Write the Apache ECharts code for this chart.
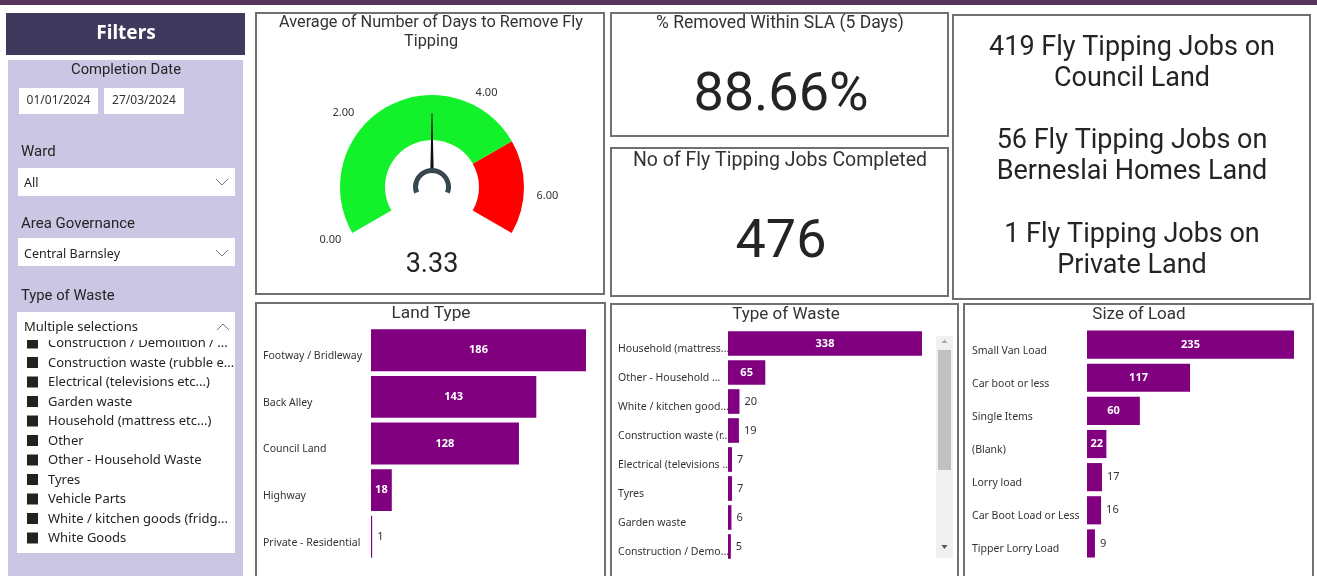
<!DOCTYPE html>
<html><head><meta charset="utf-8">
<script src="https://cdn.jsdelivr.net/npm/echarts@6/dist/echarts.min.js"></script>
<style>html,body{margin:0;padding:0;background:#fff;overflow:hidden}#c{width:1317px;height:576px}</style>
</head><body><div id="c"></div>
<script>
// ---------- data ----------
const landCategories = ['Footway / Bridleway', 'Back Alley', 'Council Land', 'Highway', 'Private - Residential'];
const landValues = [186, 143, 128, 18, 1];
const wasteCategories = ['Household (mattress...', 'Other - Household ...', 'White / kitchen good...', 'Construction waste (r...', 'Electrical (televisions ...', 'Tyres', 'Garden waste', 'Construction / Demo...'];
const wasteValues = [338, 65, 20, 19, 7, 7, 6, 5];
const loadCategories = ['Small Van Load', 'Car boot or less', 'Single Items', '(Blank)', 'Lorry load', 'Car Boot Load or Less', 'Tipper Lorry Load'];
const loadValues = [235, 117, 60, 22, 17, 16, 9];
const gaugeValue = 3.33;
const gaugeMax = 6.66;
const gaugeTarget = 5;
const gaugeTicks = [0, 2, 4, 6];
const slaPercent = '88.66%';
const jobsCompleted = 476;
const summaryCounts = [419, 56, 1];
const summaryLand = ['Council Land', 'Berneslai Homes Land', 'Private Land'];
const wasteFilterItems = ['Construction / Demolition / ...', 'Construction waste (rubble e...', 'Electrical (televisions etc...)', 'Garden waste', 'Household (mattress etc...)', 'Other', 'Other - Household Waste', 'Tyres', 'Vehicle Parts', 'White / kitchen goods (fridg...', 'White Goods'];

// ---------- styles ----------
const DIN = "Roboto, 'DejaVu Sans', sans-serif";
const SEG = "'Noto Sans', 'Open Sans', sans-serif";
const DARK = '#252423';
const PURPLE = '#800080';
const BORDER = '#707070';
// placement of each gauge tick label (distance outside the arc, padding)
const tickLabelPlacement = [
  {distance: -38, padding: [0, 0, 24, 0]},
  {distance: -42, padding: [31, 0, 0, 0]},
  {distance: -68, padding: [46, 0, 0, 0]},
  {distance: -35, padding: [0, 0, 10, 0]}
];

const chart = echarts.init(document.getElementById('c'), null, {renderer: 'canvas'});

const G = [];
function rect(x, y, w, h, fill, stroke, lw, z) {
  G.push({type: 'rect', silent: true, z: z || 0, shape: {x, y, width: w, height: h},
    style: {fill: fill || 'transparent', stroke: stroke || null, lineWidth: lw || 0}});
}
function text(x, y, t, size, o) {
  o = o || {};
  G.push({type: 'text', silent: true, z: o.z || 3, x, y,
    style: {text: t, fontSize: size, fontFamily: o.font || DIN, fontWeight: o.weight || 'normal',
      fill: o.color || DARK, align: o.align || 'left', verticalAlign: 'middle'}});
}
function poly(points, fill, z) {
  G.push({type: 'polygon', silent: true, z: z || 3, shape: {points}, style: {fill}});
}
function chevron(cx, cy, up) {
  const d = up ? -1 : 1;
  G.push({type: 'polyline', silent: true, z: 6, shape: {points: [[cx - 6, cy - 3 * d], [cx, cy + 3 * d], [cx + 6, cy - 3 * d]]},
    style: {stroke: '#777', lineWidth: 1, fill: null}});
}

// top band
rect(0, 0, 1317, 5, '#553559');
// filters panel
rect(6, 13, 239, 42, '#3f3a5d');
text(126, 34, 'Filters', 19, {weight: 'bold', color: '#ffffff', align: 'center', font: SEG});
rect(8, 60, 235, 520, '#cbc6e3');
text(126, 70, 'Completion Date', 14.8, {align: 'center'});
rect(19, 88, 79, 26, '#ffffff');
rect(104, 88, 80, 26, '#ffffff');
text(58.5, 101, '01/01/2024', 12, {align: 'center', font: SEG, color: '#333'});
text(144, 101, '27/03/2024', 12, {align: 'center', font: SEG, color: '#333'});
text(21, 152, 'Ward', 15);
rect(18, 168, 217, 28, '#ffffff');
text(24, 183, 'All', 12.5, {font: SEG});
chevron(222, 182, false);
text(21, 224, 'Area Governance', 15);
rect(18, 238, 217, 28, '#ffffff');
text(24, 254, 'Central Barnsley', 12.5, {font: SEG});
chevron(222, 253, false);
text(21, 296, 'Type of Waste', 14.8);
rect(17, 312, 218, 241, '#ffffff');
wasteFilterItems.forEach((it, i) => {
  const y = 343 + i * 19.5;
  rect(27, y - 5.5, 11, 11, '#222222', null, 0, 2);
  text(48, y + 0.5, it, 13, {font: SEG, z: 2});
});
rect(17, 312, 218, 28, '#ffffff', null, 0, 4);
text(24, 327, 'Multiple selections', 13, {font: SEG, z: 5});
chevron(223, 327, true);

// panels
rect(256, 13, 348, 281, '#fff', BORDER, 2);
rect(611, 13, 337, 123, '#fff', BORDER, 2);
rect(611, 148, 337, 148, '#fff', BORDER, 2);
rect(953, 15, 357, 284, '#fff', BORDER, 2);
rect(256, 303, 349, 290, '#fff', BORDER, 2);
rect(611, 304, 347, 290, '#fff', BORDER, 2);
rect(964, 304, 349, 290, '#fff', BORDER, 2);

// gauge title
text(431, 23, 'Average of Number of Days to Remove Fly', 16.3, {align: 'center', color: '#333'});
text(431, 42, 'Tipping', 16.3, {align: 'center', color: '#333'});
// cards
text(780, 24, '% Removed Within SLA (5 Days)', 17.5, {align: 'center', color: '#333'});
text(781, 96, slaPercent, 54, {align: 'center'});
text(780, 161, 'No of Fly Tipping Jobs Completed', 19.5, {align: 'center', color: '#333'});
text(781, 243, String(jobsCompleted), 54, {align: 'center'});
summaryCounts.forEach((n, i) => {
  const y0 = [48, 141, 235][i];
  text(1132, y0, n + ' Fly Tipping Jobs on', 27, {align: 'center'});
  text(1132, y0 + 31, summaryLand[i], 27, {align: 'center'});
});
// chart titles
text(431, 314, 'Land Type', 17.3, {align: 'center', color: '#333'});
text(786, 315, 'Type of Waste', 17, {align: 'center', color: '#333'});
text(1139, 315, 'Size of Load', 17, {align: 'center', color: '#333'});
// scrollbar (visual only)
rect(936, 336, 17, 222, '#f0f0f0', null, 0, 1);
rect(938, 350, 13, 120, '#c1c1c1', null, 0, 2);
poly([[941.5, 343], [944.5, 339.5], [947.5, 343]], '#a8a8a8');
poly([[941.5, 545], [947.5, 545], [944.5, 549]], '#555555');

// ---------- bar helpers ----------
function barData(values, pxWidth) {
  const max = Math.max.apply(null, values);
  return values.map(v => {
    const inside = v * pxWidth / max >= 18;
    return {value: v, label: inside
      ? {position: 'inside', color: '#ffffff', fontWeight: 'bold'}
      : {position: 'right', color: '#333', fontWeight: 'normal', distance: 5}};
  });
}
const grids = [
  {left: 371, top: 327, width: 215, height: 233},
  {left: 728, top: 329, width: 194, height: 232},
  {left: 1087, top: 328, width: 207, height: 232}
];
const margins = [108, 110, 115];
const cats = [landCategories, wasteCategories, loadCategories];
const vals = [landValues, wasteValues, loadValues];
const gaps = ['10%', '15%', '15%'];

const gaugeBase = {
  type: 'gauge', center: [432, 187], radius: 92, startAngle: 210, endAngle: -30,
  min: 0, max: gaugeMax, splitNumber: Math.round(gaugeMax / 0.02),
  axisTick: {show: false}, splitLine: {show: false, length: 0, distance: 0},
  title: {show: false}
};
const tickLabelSeries = gaugeTicks.map((t, i) => Object.assign({}, gaugeBase, {
  axisLine: {show: false},
  axisLabel: {
    distance: tickLabelPlacement[i].distance,
    rich: {a: {fontSize: 11, fontFamily: SEG, color: '#333', padding: tickLabelPlacement[i].padding}},
    formatter: v => Math.abs(v - t) < 1e-6 ? '{a|' + t.toFixed(2) + '}' : ''
  },
  pointer: {show: false}, anchor: {show: false}, detail: {show: false},
  data: [], z: 3
}));

const option = {
  animation: false,
  backgroundColor: '#ffffff',
  graphic: {elements: G},
  grid: grids.map(g => Object.assign({containLabel: false}, g)),
  xAxis: grids.map((g, i) => ({type: 'value', gridIndex: i, min: 0, max: 'dataMax', show: false})),
  yAxis: grids.map((g, i) => ({
    type: 'category', gridIndex: i, inverse: true, data: cats[i],
    axisLine: {show: false}, axisTick: {show: false}, splitLine: {show: false},
    axisLabel: {align: 'left', verticalAlign: 'top', lineHeight: 12, margin: margins[i], color: '#333', fontSize: 10.5, fontFamily: SEG}
  })),
  series: [
    ...grids.map((g, i) => ({
      type: 'bar', xAxisIndex: i, yAxisIndex: i, barCategoryGap: gaps[i],
      itemStyle: {color: PURPLE},
      label: {show: true, fontSize: 11, fontFamily: SEG},
      data: barData(vals[i], g.width), z: 4
    })),
    Object.assign({}, gaugeBase, {
      axisLine: {lineStyle: {width: 45, color: [[gaugeTarget / gaugeMax, '#13f12a'], [1, '#ff0000']]}},
      axisLabel: {show: false},
      pointer: {icon: 'path://M4,0 L6,0 L10,100 L0,100 Z', length: 74, width: 4, itemStyle: {color: '#111111'}},
      anchor: {show: true, showAbove: true, size: 28, itemStyle: {color: '#ffffff'}},
      detail: {offsetCenter: [0, 78], fontSize: 27, color: DARK, fontFamily: DIN, fontWeight: 'normal',
        formatter: v => v.toFixed(2)},
      data: [{value: gaugeValue}], z: 3
    }),
    ...tickLabelSeries,
    {
      type: 'gauge', center: [432, 187], radius: 19, startAngle: 200, endAngle: -20, min: 0, max: 1,
      axisLine: {lineStyle: {width: 5, color: [[1, '#37474f']]}},
      axisTick: {show: false}, splitLine: {show: false}, axisLabel: {show: false},
      pointer: {show: false}, anchor: {show: false}, title: {show: false}, detail: {show: false},
      data: [], z: 6
    }
  ]
};
chart.setOption(option);
</script></body></html>
